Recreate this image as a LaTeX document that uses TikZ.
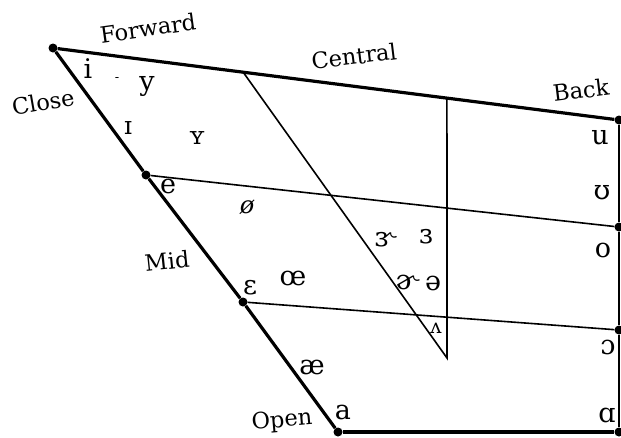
\documentclass[tikz,border=0pt]{standalone}
\usepackage{fontspec}
\setmainfont{DejaVu Serif}
\usepackage{tikz}
\usetikzlibrary{calc}
\tikzset{
	thickedge/.style={draw=black,line width=3.2pt},
	sideedge/.style={draw=black,line width=2.2pt},
	ledge/.style={draw=black,line width=1.6pt},
	cdot/.style={circle,fill=black,inner sep=0pt,minimum size=9pt},
	lbl/.style={font=\fontsize{22.5}{22.5}\selectfont,inner sep=0pt},
	vwl/.style={font=\fontsize{27}{27}\selectfont,inner sep=0pt}
}
\begin{document}
\begin{tikzpicture}[x=1pt,y=-1pt]
	\useasboundingbox (0,0) rectangle (621,437);
	% corners and height marks
	\node[cdot] (fc) at (53,48) {};
	\node[cdot] (bc) at (619,120) {};
	\node[cdot] (fm) at (146,175) {};
	\node[cdot] (bm) at (619,227) {};
	\node[cdot] (fl) at (243,302) {};
	\node[cdot] (bl) at (619,330) {};
	\node[cdot] (fo) at (338,432) {};
	\node[cdot] (bo) at (619,432) {};
	% central lines
	\coordinate (ct) at ($(fc)!0.336!(bc)$);
	\coordinate (cv) at ($(fc)!0.696!(bc)$);
	\coordinate (cb) at (447,358);
	\draw[thickedge] (fc) -- (bc);
	\draw[thickedge] (fc) -- (fm) -- (fl) -- (fo);
	\draw[thickedge] (fo) -- (bo);
	\draw[sideedge] (bc) -- (bm) -- (bl) -- (bo);
	\draw[ledge] (fm) -- (bm);
	\draw[ledge] (fl) -- (bl);
	\draw[ledge] (ct) -- (cb) -- (cv);
	% labels
	\node[lbl,rotate=8] (forward) at (148,28) {Forward};
	\node[lbl,rotate=7] (central) at (354,56) {Central};
	\node[lbl,rotate=7] (back) at (581,90) {Back};
	\node[lbl,rotate=10] (close) at (43,102) {Close};
	\node[lbl,rotate=6] (mid) at (167,261) {Mid};
	\node[lbl,rotate=5] (open) at (282,421) {Open};
	% vowels
	\node[vwl] (vi) at (88,69) {i};
	\node[vwl,font=\fontsize{13}{13}\selectfont] (vbar) at (117,80) {-};
	\node[vwl] (vy) at (147,86) {y};
	\node[vwl,font=\fontsize{25}{25}\selectfont] (vsi) at (128,128) {ɪ};
	\node[vwl,font=\fontsize{25}{25}\selectfont] (vsy) at (197,138) {ʏ};
	\node[vwl] (ve) at (168,186) {e};
	\node[vwl,font=\fontsize{24}{24}\selectfont\itshape] (voe) at (247,207) {ø};
	\node[vwl] (veps) at (250,288) {ɛ};
	\node[vwl] (voel) at (293,278) {œ};
	\node[vwl] (vae) at (312,367) {æ};
	\node[vwl] (va) at (343,412) {a};
	\node[vwl] (vrer) at (385,240) {ɝ};
	\node[vwl] (vrev) at (426,237) {ɜ};
	\node[vwl] (vsch) at (407,282) {ɚ};
	\node[vwl] (vschwa) at (433,283) {ə};
	\node[vwl,font=\fontsize{20}{20}\selectfont] (vwedge) at (436,328) {ʌ};
	\node[vwl] (vu) at (600,138) {u};
	\node[vwl] (vups) at (602,193) {ʊ};
	\node[vwl] (vo) at (603,250) {o};
	\node[vwl] (vopen) at (608,347) {ɔ};
	\node[vwl] (valpha) at (607,415) {ɑ};
\end{tikzpicture}
\end{document}
